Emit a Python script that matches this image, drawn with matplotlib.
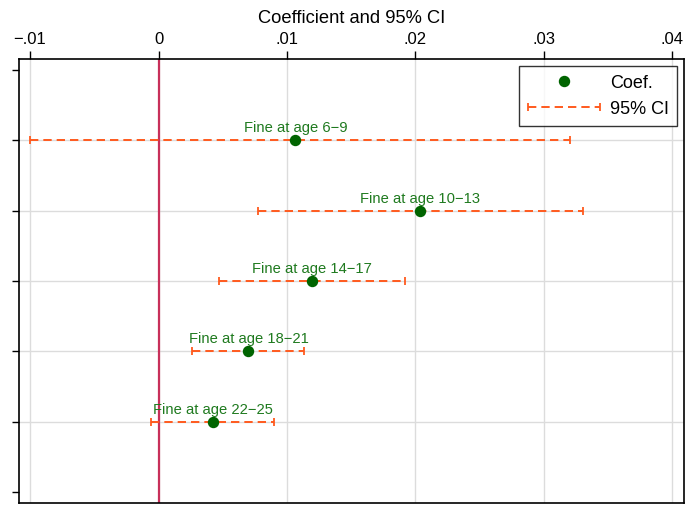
import matplotlib
matplotlib.use("Agg")
from matplotlib import pyplot as plt
from matplotlib.lines import Line2D
from matplotlib.legend_handler import HandlerLine2D
import numpy as np

plt.rcParams["font.family"] = ["Liberation Sans", "DejaVu Sans"]
plt.rcParams["lines.scale_dashes"] = False

labels = ["Fine at age 6\u22129", "Fine at age 10\u221213", "Fine at age 14\u221217",
          "Fine at age 18\u221221", "Fine at age 22\u221225"]
coef = [0.01066, 0.02037, 0.01193, 0.0070, 0.00423]
ci_lo = [-0.00998, 0.00778, 0.00469, 0.00262, -0.00057]
ci_hi = [0.03204, 0.03307, 0.01922, 0.01136, 0.00895]
xticks = [-0.01, 0, 0.01, 0.02, 0.03, 0.04]
xticklabels = ["\u2212.01", "0", ".01", ".02", ".03", ".04"]

green = "#006400"
orange = "#ff5a1e"
dash = (0, (6, 3.6))

fig = plt.figure(figsize=(6.86, 5.06), dpi=100)
ax = fig.add_axes([19 / 686, 1 - 504 / 506, 665 / 686, 444 / 506])

ypos = np.arange(1, len(coef) + 1)
lo_err = np.array(coef) - np.array(ci_lo)
hi_err = np.array(ci_hi) - np.array(coef)

# grid
for xt in xticks:
    ax.axvline(xt, color="#dcdcdc", lw=1.0, zorder=0)
for y in ypos:
    ax.axhline(y, color="#dcdcdc", lw=1.0, zorder=0)
ax.axvline(0, color="#c8305a", lw=1.6, zorder=1)

eb = ax.errorbar(coef, ypos, xerr=[lo_err, hi_err], fmt="none", ecolor=orange,
                 elinewidth=1.4, capsize=2.7, capthick=1.3, zorder=2)
eb[2][0].set_linestyle(dash)
ax.plot(coef, ypos, "o", color=green, ms=7.2, zorder=3, linestyle="none")

for x, y, lab in zip(coef, ypos, labels):
    ax.annotate(lab, (x, y), xytext=(0, 4.3), textcoords="offset points",
                ha="center", va="bottom", color="#1f7a1f", fontsize=10.6, zorder=4)

ax.set_xlim(-0.01086, 0.0409)
ax.set_ylim(6.156, -0.156)
ax.set_yticks(range(0, 7))
ax.set_yticklabels([])
ax.set_xticks(xticks)
ax.set_xticklabels(xticklabels, fontsize=12)
ax.xaxis.tick_top()
ax.tick_params(axis="x", direction="out", length=6, width=1.0, pad=3.2)
ax.tick_params(axis="y", direction="out", length=5, width=1.0)
fig.text(351.5 / 686, 1 - 22.7 / 506, "Coefficient and 95% CI", fontsize=13.2,
         ha="center", va="baseline")
for s in ax.spines.values():
    s.set_linewidth(1.2)

coef_h = Line2D([], [], marker="o", color=green, ms=7.2, linestyle="none")
ci_h = Line2D([], [], color=orange, lw=1.4, linestyle=dash, marker="|",
              ms=5.4, mew=1.3)
leg = ax.legend([coef_h, ci_h], ["Coef.", "95% CI"], loc="upper right",
                fontsize=13, frameon=True, fancybox=False, edgecolor="black",
                handlelength=4.0, handletextpad=0.55, labelspacing=0.5,
                borderpad=0.45, borderaxespad=0.4,
                handler_map={ci_h: HandlerLine2D(numpoints=2, marker_pad=0)})
leg.get_frame().set_linewidth(1.0)

fig.savefig("out.png", dpi=100)
